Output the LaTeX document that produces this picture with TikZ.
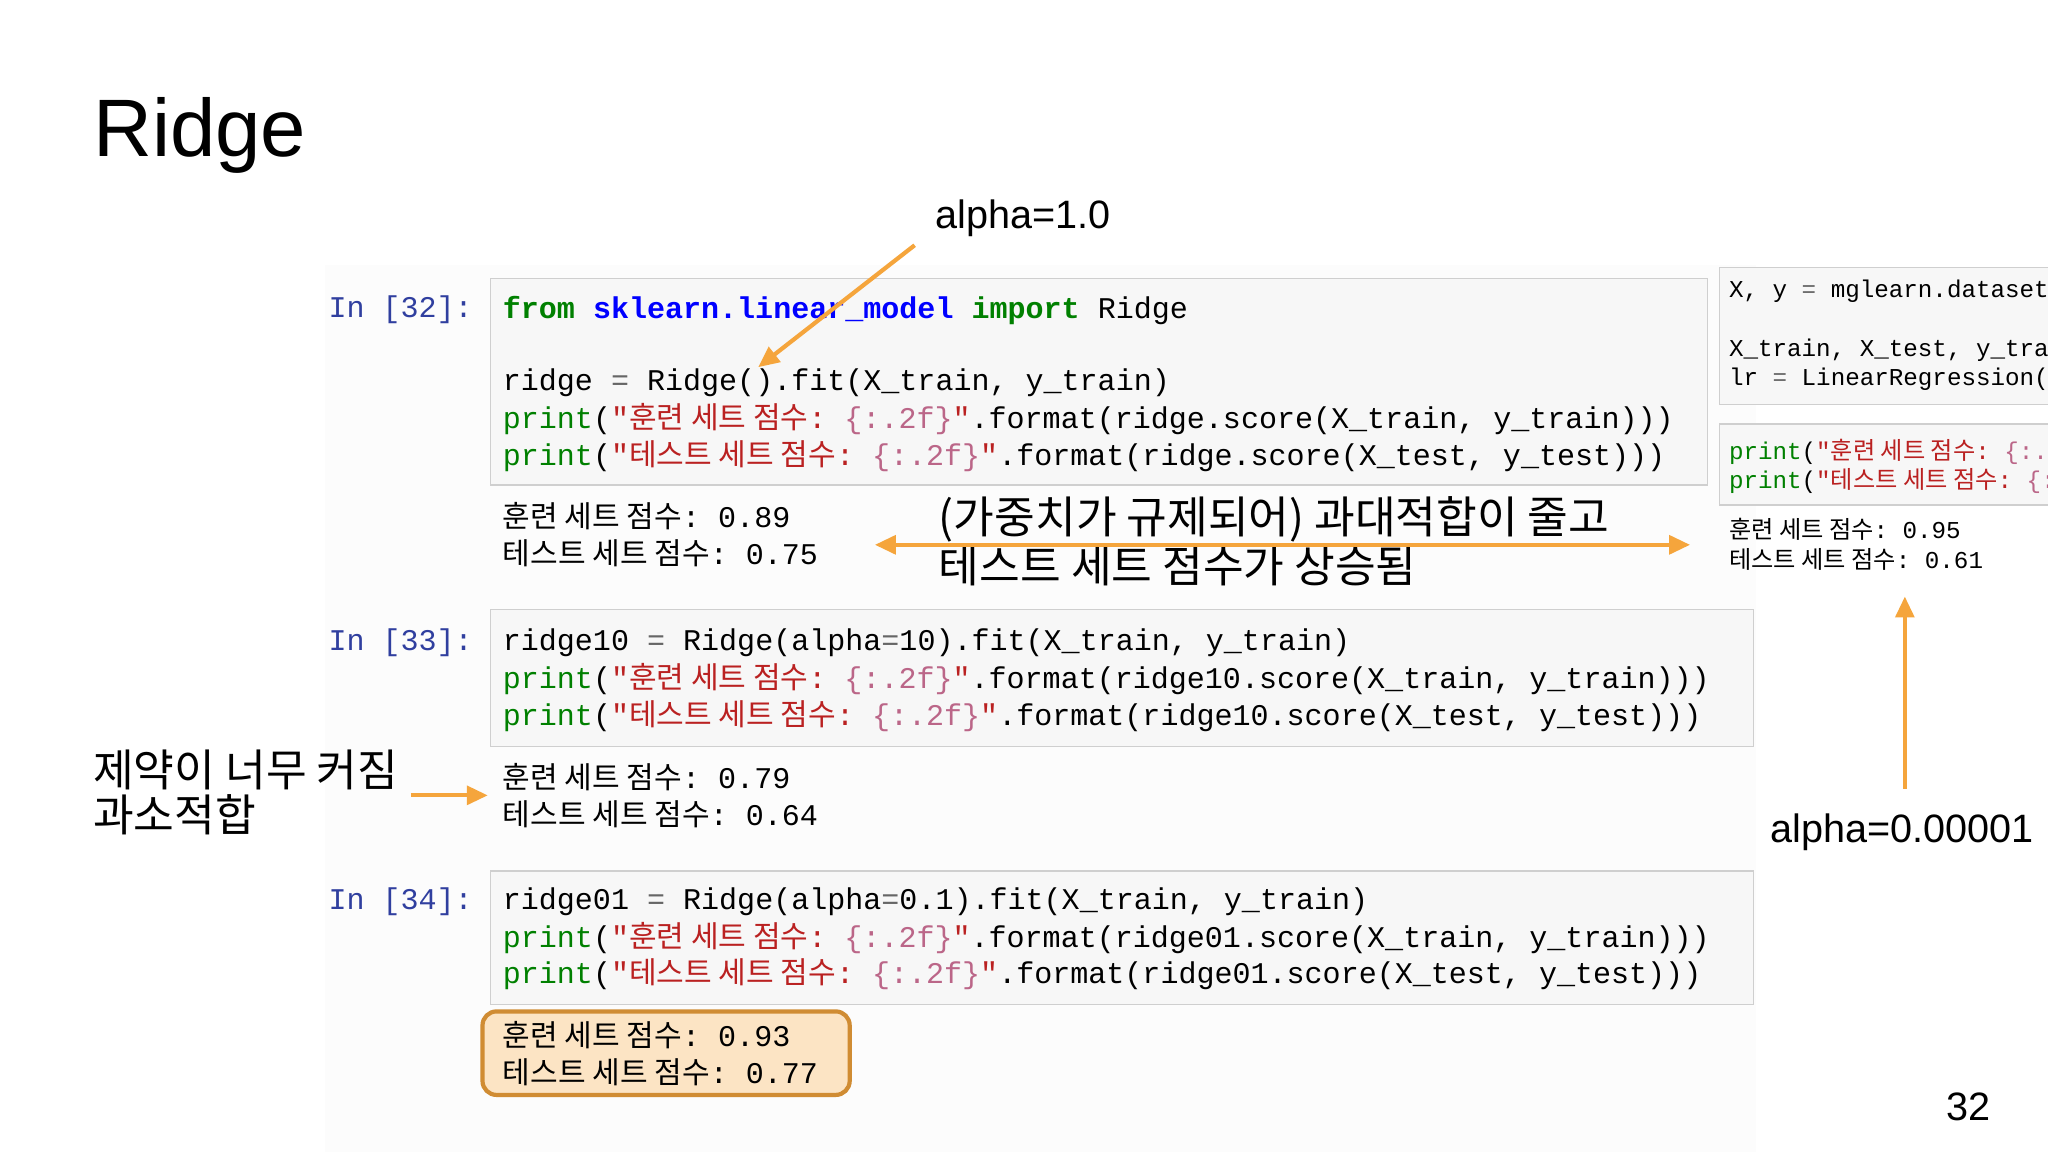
\documentclass[tikz,border=0pt]{standalone}
\usepackage{fontspec}
\setmainfont{Liberation Sans}
\setmonofont{Liberation Mono}
\newfontfamily\kr{Noto Sans CJK KR}
\newcommand\ko[1]{{\kr #1}}
\definecolor{kwc}{HTML}{008000}
\definecolor{mdc}{HTML}{0000FF}
\definecolor{stc}{HTML}{BA2121}
\definecolor{fmc}{HTML}{BB6688}
\definecolor{opc}{HTML}{666666}
\definecolor{prc}{HTML}{303F9F}
\definecolor{orng}{HTML}{F5A53C}
\definecolor{cellbg}{HTML}{F7F7F7}
\definecolor{cellbd}{HTML}{CFCFCF}
\newcommand\kw[1]{\textcolor{kwc}{\bfseries #1}}
\newcommand\md[1]{\textcolor{mdc}{\bfseries #1}}
\newcommand\st[1]{\textcolor{stc}{#1}}
\newcommand\fm[1]{\textcolor{fmc}{#1}}
\newcommand\op[1]{\textcolor{opc}{#1}}
\newcommand\pr[1]{\textcolor{kwc}{#1}}
\tikzset{
  code/.style={anchor=west,inner sep=0,font=\fontsize{12.9}{15}\selectfont\ttfamily},
  scode/.style={anchor=west,inner sep=0,font=\fontsize{10.4}{12}\selectfont\ttfamily},
  prompt/.style={anchor=east,inner sep=0,text=prc,font=\fontsize{12.9}{15}\selectfont\ttfamily},
  cell/.style={draw=cellbd,fill=cellbg,line width=0.6pt},
  note/.style={anchor=west,inner sep=0,font=\fontsize{19}{23}\selectfont},
  lbl/.style={inner sep=0,font=\fontsize{17}{20}\selectfont},
  oarrow/.style={draw=orng,line width=1.8pt,-{Triangle[length=9pt,width=8pt]}},
}
\usetikzlibrary{arrows.meta}
\begin{document}
\begin{tikzpicture}[x=0.02cm,y=-0.02cm]
\useasboundingbox (0,0) rectangle (1545,869);
\fill[white] (0,0) rectangle (1545,869);
\fill[black!1] (245,200) rectangle (1325,869);
\node[anchor=base west,inner sep=0,font=\fontsize{35}{40}\selectfont] (title) at (70,118) {Ridge};

% cell 32
\node[prompt] (p32) at (357,234) {In [32]:};
\draw[cell] (370,210) rectangle (1288,366);
\node[code] (c32a) at (379,234) {\kw{from} \md{sklearn.linear\_model} \kw{import} Ridge};
\node[code] (c32b) at (379,289) {ridge \op{=} Ridge().fit(X\_train, y\_train)};
\node[code] (c32c) at (379,316) {\pr{print}(\st{"\ko{훈련 세트 점수}: }\fm{\{:.2f\}}\st{"}.format(ridge.score(X\_train, y\_train)))};
\node[code] (c32d) at (379,344) {\pr{print}(\st{"\ko{테스트 세트 점수}: }\fm{\{:.2f\}}\st{"}.format(ridge.score(X\_test, y\_test)))};
\node[code] (o32a) at (379,389) {\ko{훈련 세트 점수}: 0.89};
\node[code] (o32b) at (379,417) {\ko{테스트 세트 점수}: 0.75};

% cell 33
\node[prompt] (p33) at (357,485) {In [33]:};
\draw[cell] (370,460) rectangle (1323,563);
\node[code] (c33a) at (379,485) {ridge10 \op{=} Ridge(alpha\op{=}10).fit(X\_train, y\_train)};
\node[code] (c33b) at (379,512) {\pr{print}(\st{"\ko{훈련 세트 점수}: }\fm{\{:.2f\}}\st{"}.format(ridge10.score(X\_train, y\_train)))};
\node[code] (c33c) at (379,540) {\pr{print}(\st{"\ko{테스트 세트 점수}: }\fm{\{:.2f\}}\st{"}.format(ridge10.score(X\_test, y\_test)))};
\node[code] (o33a) at (379,586) {\ko{훈련 세트 점수}: 0.79};
\node[code] (o33b) at (379,614) {\ko{테스트 세트 점수}: 0.64};

% cell 34
\node[prompt] (p34) at (357,680) {In [34]:};
\draw[cell] (370,657) rectangle (1323,758);
\node[code] (c34a) at (379,680) {ridge01 \op{=} Ridge(alpha\op{=}0.1).fit(X\_train, y\_train)};
\node[code] (c34b) at (379,708) {\pr{print}(\st{"\ko{훈련 세트 점수}: }\fm{\{:.2f\}}\st{"}.format(ridge01.score(X\_train, y\_train)))};
\node[code] (c34c) at (379,735) {\pr{print}(\st{"\ko{테스트 세트 점수}: }\fm{\{:.2f\}}\st{"}.format(ridge01.score(X\_test, y\_test)))};
\draw[draw=orng!85!black,fill=orng!30,line width=1.8pt,rounded corners=6pt] (364,763) rectangle (641,826);
\node[code] (o34a) at (379,781) {\ko{훈련 세트 점수}: 0.93};
\node[code] (o34b) at (379,809) {\ko{테스트 세트 점수}: 0.77};

% right panel
\begin{scope}
\clip (1290,190) rectangle (1545,460);
\draw[cell] (1297,202) rectangle (1560,305);
\node[scode] (r1) at (1304,220) {X, y \op{=} mglearn.datasets.load\_extended\_boston()};
\node[scode] (r2) at (1304,264) {X\_train, X\_test, y\_train, y\_test};
\node[scode] (r3) at (1304,286) {lr \op{=} LinearRegression().fit(X\_train, y\_train)};
\draw[cell] (1297,320) rectangle (1560,381);
\node[scode] (r4) at (1304,341) {\pr{print}(\st{"\ko{훈련 세트 점수}: }\fm{\{:.2f\}}\st{"}.format};
\node[scode] (r5) at (1304,363) {\pr{print}(\st{"\ko{테스트 세트 점수}: }\fm{\{:.2f\}}\st{"}.format};
\end{scope}
\node[scode] (r6) at (1304,399) {\ko{훈련 세트 점수}: 0.95};
\node[scode] (r7) at (1304,422) {\ko{테스트 세트 점수}: 0.61};

% annotations
\node[lbl] (a1) at (772,165) {alpha=1.0};
\coordinate (a1s) at (690,185);
\coordinate (a1e) at (572,277);
\draw[oarrow] (a1s) -- (a1e);

\node[note] (n1) at (708,392) {\ko{(가중치가 규제되어) 과대적합이 줄고}};
\node[note] (n2) at (708,427) {\ko{테스트 세트 점수가 상승됨}};
\coordinate (dl) at (660,411);
\coordinate (dr) at (1275,411);
\draw[oarrow,{Triangle[length=9pt,width=8pt]}-{Triangle[length=9pt,width=8pt]}] (dl) -- (dr);

\node[note] (n3) at (70,581) {\ko{제약이 너무 커짐}};
\node[note] (n4) at (70,615) {\ko{과소적합}};
\coordinate (s1) at (310,600);
\coordinate (s2) at (368,600);
\draw[oarrow] (s1) -- (s2);

\node[lbl] (a2) at (1435,628) {alpha=0.00001};
\coordinate (u1) at (1437,595);
\coordinate (u2) at (1437,450);
\draw[oarrow] (u1) -- (u2);

\node[lbl] (pg) at (1485,835) {32};
\end{tikzpicture}
\end{document}
